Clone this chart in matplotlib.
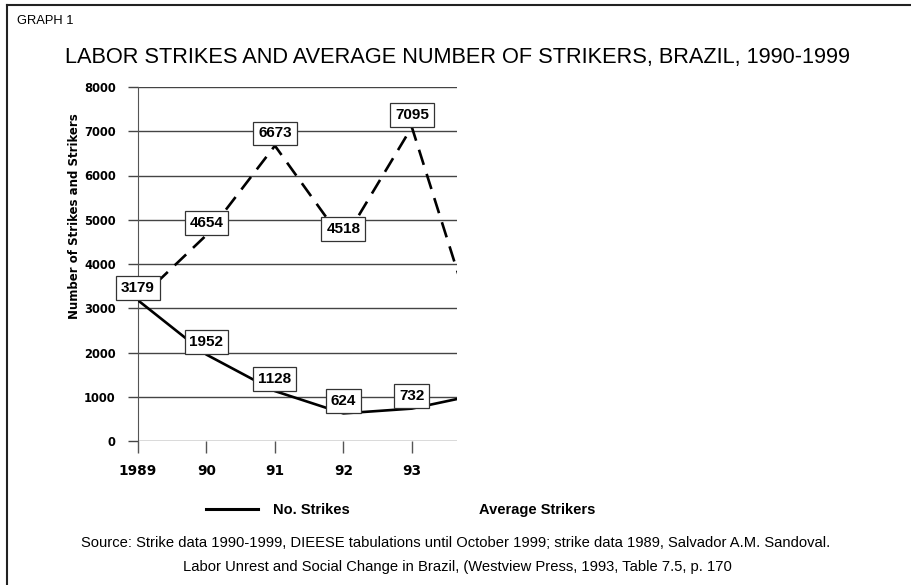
#!/usr/bin/env python

# Graph 1: labor strikes and average strikers, Brazil (scanned-report look).

import matplotlib.pyplot as plt
from matplotlib.lines import Line2D

years = [1989, 1990, 1991, 1992, 1993, 1994]
year_labels = ["1989", "90", "91", "92", "93"]
strikes = [3179, 1952, 1128, 624, 732, 1060]
avg_strikers = [3179, 4654, 6673, 4518, 7095, 2200]
labelled = 5  # only the first five points carry a value box
y_ticks = [0, 1000, 2000, 3000, 4000, 5000, 6000, 7000, 8000]

source_lines = [
    "Source: Strike data 1990-1999, DIEESE tabulations until October 1999; "
    "strike data 1989, Salvador A.M. Sandoval.",
    "Labor Unrest and Social Change in Brazil, (Westview Press, 1993, Table 7.5, p. 170",
]

BOLD = "DejaVu Sans"
PLAIN = "Liberation Sans"
GRID = "#444444"


def value_boxes(ax, xs, ys):
    for x, y in zip(xs, ys):
        ax.annotate(
            str(y), (x, y), xytext=(0, 3.8), textcoords="offset points",
            ha="center", va="bottom", fontsize=11, fontweight="bold",
            family=PLAIN, zorder=5,
            bbox=dict(boxstyle="square,pad=0.32", fc="white", ec="#333333", lw=0.9),
        )


fig = plt.figure(figsize=(9.12, 5.85), dpi=100)
ax = fig.add_axes([138 / 912, 1 - 441 / 585, 319 / 912, 354 / 585])

ax.plot(years, strikes, color="black", lw=1.9, zorder=3)
dashed, = ax.plot(years, avg_strikers, color="black", lw=1.9, zorder=3)
dashed.set_dashes((6, 3.6))

value_boxes(ax, years[:labelled], strikes[:labelled])
value_boxes(ax, years[1:labelled], avg_strikers[1:labelled])

ax.set_xlim(1989, 1993.66)
ax.set_ylim(0, 8000)
ax.set_yticks(y_ticks)
ax.set_xticks(years[:labelled])
ax.set_xticklabels(year_labels)
ax.grid(axis="y", color=GRID, lw=1)
ax.set_axisbelow(True)
for side in ["top", "right", "bottom"]:
    ax.spines[side].set_visible(False)
ax.spines["left"].set_color("#555555")
ax.tick_params(axis="y", length=7, width=1, color=GRID, pad=9)
ax.tick_params(axis="x", length=8.5, width=1, color="#555555", pad=8)
for lab in ax.get_yticklabels():
    lab.set_fontproperties({"family": BOLD, "weight": "bold", "size": 8.3})
for lab in ax.get_xticklabels():
    lab.set_fontproperties({"family": BOLD, "weight": "bold", "size": 9.8})

fig.text(75 / 912, 1 - 216 / 585, "Number of Strikes and Strikers",
         rotation=90, ha="center", va="center", family=BOLD,
         fontweight="bold", fontsize=8.5)

fig.text(17 / 912, 1 - 21 / 585, "GRAPH 1", family=PLAIN, fontsize=9.3,
         va="center")
fig.text(458 / 912, 1 - 57 / 585,
         "LABOR STRIKES AND AVERAGE NUMBER OF STRIKERS, BRAZIL, 1990-1999",
         family=PLAIN, fontsize=15.7, ha="center", va="center")

handles = [Line2D([], [], color="black", lw=2.2), Line2D([], [], alpha=0)]
fig.legend(handles, ["No. Strikes", "Average Strikers"], ncol=2,
           loc="center left", bbox_to_anchor=(206 / 912, 1 - 510 / 585),
           frameon=False, borderpad=0, borderaxespad=0, handlelength=3.57,
           handletextpad=1.03, columnspacing=4.25,
           prop={"family": PLAIN, "weight": "bold", "size": 10.5})

fig.text(456 / 912, 1 - 543 / 585, source_lines[0], family=PLAIN,
         fontsize=10.6, ha="center", va="center")
fig.text(457 / 912, 1 - 567 / 585, source_lines[1], family=PLAIN,
         fontsize=10.6, ha="center", va="center")

# scanned page frame: left and top edges only
fig.add_artist(Line2D([7 / 912, 7 / 912], [0, 1 - 5 / 585], color="#222222",
                      lw=1.5, transform=fig.transFigure))
fig.add_artist(Line2D([7 / 912, 1], [1 - 5 / 585, 1 - 5 / 585],
                      color="#222222", lw=1.5, transform=fig.transFigure))

fig.savefig("out.png", dpi=100)
